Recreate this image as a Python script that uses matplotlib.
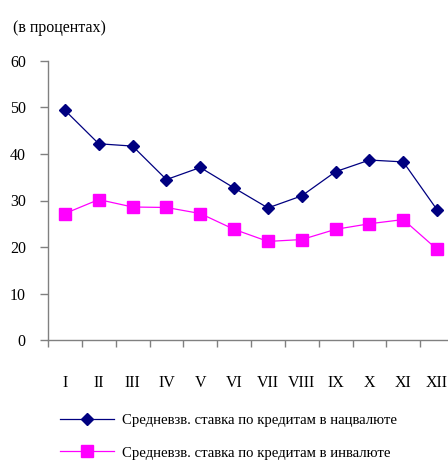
import matplotlib
matplotlib.use('Agg')
import matplotlib.pyplot as plt

months = ['I', 'II', 'III', 'IV', 'V', 'VI', 'VII', 'VIII', 'IX', 'X', 'XI', 'XII']
rate_nat = [49.4, 42.2, 41.7, 34.5, 37.1, 32.7, 28.4, 31.0, 36.2, 38.7, 38.3, 28.0]
rate_for = [27.2, 30.2, 28.6, 28.5, 27.2, 23.8, 21.2, 21.6, 23.8, 25.0, 25.9, 19.5]
yticks = [0, 10, 20, 30, 40, 50, 60]
label_nat = 'Средневзв. ставка по кредитам в нацвалюте'
label_for = 'Средневзв. ставка по кредитам в инвалюте'

plt.rcParams['font.family'] = ['Liberation Serif', 'DejaVu Serif']
plt.rcParams['font.size'] = 11.5

fig = plt.figure(figsize=(4.48, 4.62), dpi=100)
ax = fig.add_axes([48 / 448, 1 - 340 / 462, 406 / 448, 279 / 462])

x = list(range(len(months)))
ax.plot(x, rate_nat, color='#000080', lw=0.9, marker='D', ms=6.3, label=label_nat)
ax.plot(x, rate_for, color='#FF00FF', lw=0.9, marker='s', ms=9, label=label_for)

ax.set_xlim(-0.5, 11.5)
ax.set_ylim(0, 60)
ax.set_yticks(yticks)
ax.set_xticks([i - 0.5 for i in range(13)], minor=False)
ax.set_xticklabels([])
ax.set_xticks(x, minor=True)
ax.set_xticklabels(months, minor=True)
ax.tick_params(axis='x', which='major', direction='out', length=5, color='#808080', width=1)
ax.tick_params(axis='x', which='minor', length=0, pad=25)
ax.tick_params(axis='y', direction='out', length=6, color='#808080', width=1, pad=10)
for s in ['top', 'right']:
    ax.spines[s].set_visible(False)
for s in ['left', 'bottom']:
    ax.spines[s].set_color('#808080')
    ax.spines[s].set_linewidth(1)

fig.text(13 / 448, 1 - 28 / 462, '(в процентах)', va='center', ha='left')

fig.legend(loc='upper left', bbox_to_anchor=(48 / 448, 1 - 402 / 462),
           frameon=False, fontsize=10.6, handlelength=3.7, labelspacing=1.3,
           handletextpad=0.55, borderpad=0.3)

fig.savefig('out.png', dpi=100)
